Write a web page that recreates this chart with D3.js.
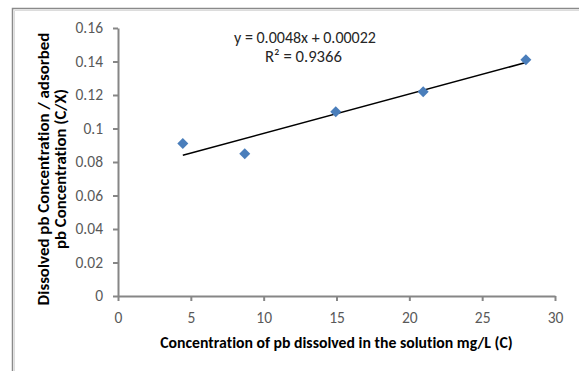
<!DOCTYPE html>
<html>
<head>
<meta charset="utf-8">
<script src="https://cdn.jsdelivr.net/npm/d3@7"></script>
<style>
  html, body { margin: 0; padding: 0; background: #fff; }
  svg { display: block; }
  text { font-family: Carlito, Lato, "Liberation Sans", sans-serif; font-variant-ligatures: none; }
</style>
</head>
<body>
<svg id="chart" width="579" height="371"></svg>
<script>
// Observed points: dissolved Pb concentration C (mg/L) vs C/X ratio
const concentration = [4.45, 8.7, 14.95, 20.95, 28];
const ratio = [0.091, 0.085, 0.110, 0.122, 0.141];

const xTicks = [0, 5, 10, 15, 20, 25, 30];
const yTicks = [0, 0.02, 0.04, 0.06, 0.08, 0.1, 0.12, 0.14, 0.16];
const yTickLabels = ["0", "0.02", "0.04", "0.06", "0.08", "0.1", "0.12", "0.14", "0.16"];

const equationText = "y = 0.0048x + 0.00022";
const r2Text = "R\u00B2 = 0.9366";
const xTitle = "Concentration of pb dissolved in the solution mg/L (C)";
const yTitleLines = ["Dissolved pb Concentration / adsorbed", "pb Concentration (C/X)"];

const svg = d3.select("#chart");
const W = 579, H = 371;
const plot = { left: 118, right: 555, top: 28, bottom: 296 };

svg.append("rect").attr("width", W).attr("height", H).attr("fill", "#fff");

// outer frame (top and left edges)
svg.append("path")
  .attr("d", `M12.5,${H} V8.5 H${W}`)
  .attr("fill", "none")
  .attr("stroke", "#8a8a8a")
  .attr("stroke-width", 1.5);
svg.append("path")
  .attr("d", `M14.5,${H} V10.5 H${W}`)
  .attr("fill", "none")
  .attr("stroke", "#dcdcdc")
  .attr("stroke-width", 1);

const x = d3.scaleLinear().domain([0, 30]).range([plot.left, plot.right]);
const y = d3.scaleLinear().domain([0, 0.16]).range([plot.bottom, plot.top]);

const axisColor = "#868686";
const tickColor = "#595959";

// y axis
const gy = svg.append("g")
  .attr("transform", `translate(${plot.left},0)`)
  .call(d3.axisLeft(y).tickValues(yTicks)
    .tickFormat((d, i) => yTickLabels[i])
    .tickSizeInner(5).tickSizeOuter(0).tickPadding(10));
// x axis
const gx = svg.append("g")
  .attr("transform", `translate(0,${plot.bottom})`)
  .call(d3.axisBottom(x).tickValues(xTicks)
    .tickFormat(d3.format("d"))
    .tickSizeInner(5).tickSizeOuter(0).tickPadding(11));

[gx, gy].forEach(g => {
  g.attr("font-family", null).attr("font-size", null);
  g.select(".domain").attr("stroke", axisColor).attr("stroke-width", 2);
  g.selectAll(".tick line").attr("stroke", axisColor).attr("stroke-width", 2);
  g.selectAll(".tick text")
    .attr("fill", tickColor)
    .style("font-size", "15.5px");
});

// least-squares trend line across the data range
const n = concentration.length;
const mx = d3.mean(concentration), my = d3.mean(ratio);
let sxy = 0, sxx = 0;
for (let i = 0; i < n; i++) {
  sxy += (concentration[i] - mx) * (ratio[i] - my);
  sxx += (concentration[i] - mx) ** 2;
}
const slope = sxy / sxx, intercept = my - slope * mx;
const [x0, x1] = d3.extent(concentration);
svg.append("line")
  .attr("x1", x(x0)).attr("y1", y(intercept + slope * x0))
  .attr("x2", x(x1)).attr("y2", y(intercept + slope * x1))
  .attr("stroke", "#000")
  .attr("stroke-width", 1.5);

// diamond markers
const r = 5.5;
svg.append("g").selectAll("path")
  .data(concentration.map((c, i) => [c, ratio[i]]))
  .join("path")
  .attr("transform", d => `translate(${x(d[0])},${y(d[1])})`)
  .attr("d", `M0,${-r} L${r},0 L0,${r} L${-r},0 Z`)
  .attr("fill", "#4a7ebb");

// text fitted to a given width
function fitText(sel, width) {
  const w = sel.node().getComputedTextLength();
  const fs = parseFloat(sel.style("font-size"));
  sel.style("font-size", (fs * width / w).toFixed(2) + "px");
}

// trendline equation
const eq = svg.append("text").attr("x", 305).attr("y", 43)
  .attr("text-anchor", "middle").attr("fill", "#262626")
  .style("font-size", "14px").text(equationText);
fitText(eq, 142);
const r2 = svg.append("text").attr("x", 303.5).attr("y", 62)
  .attr("text-anchor", "middle").attr("fill", "#262626")
  .style("font-size", "14px").text(r2Text);
fitText(r2, 77);

// axis titles
const xt = svg.append("text").attr("x", 336.5).attr("y", 348)
  .attr("text-anchor", "middle").attr("fill", "#000")
  .style("font-weight", "bold").style("font-size", "14px").text(xTitle);
fitText(xt, 353);

const yBase = [49, 66];
const yWidths = [273, 160];
yTitleLines.forEach((line, i) => {
  const t = svg.append("text")
    .attr("transform", `translate(${yBase[i]},169) rotate(-90)`)
    .attr("text-anchor", "middle").attr("fill", "#000")
    .style("font-weight", "bold").style("font-size", "14px").text(line);
  fitText(t, yWidths[i]);
});
</script>
</body>
</html>
